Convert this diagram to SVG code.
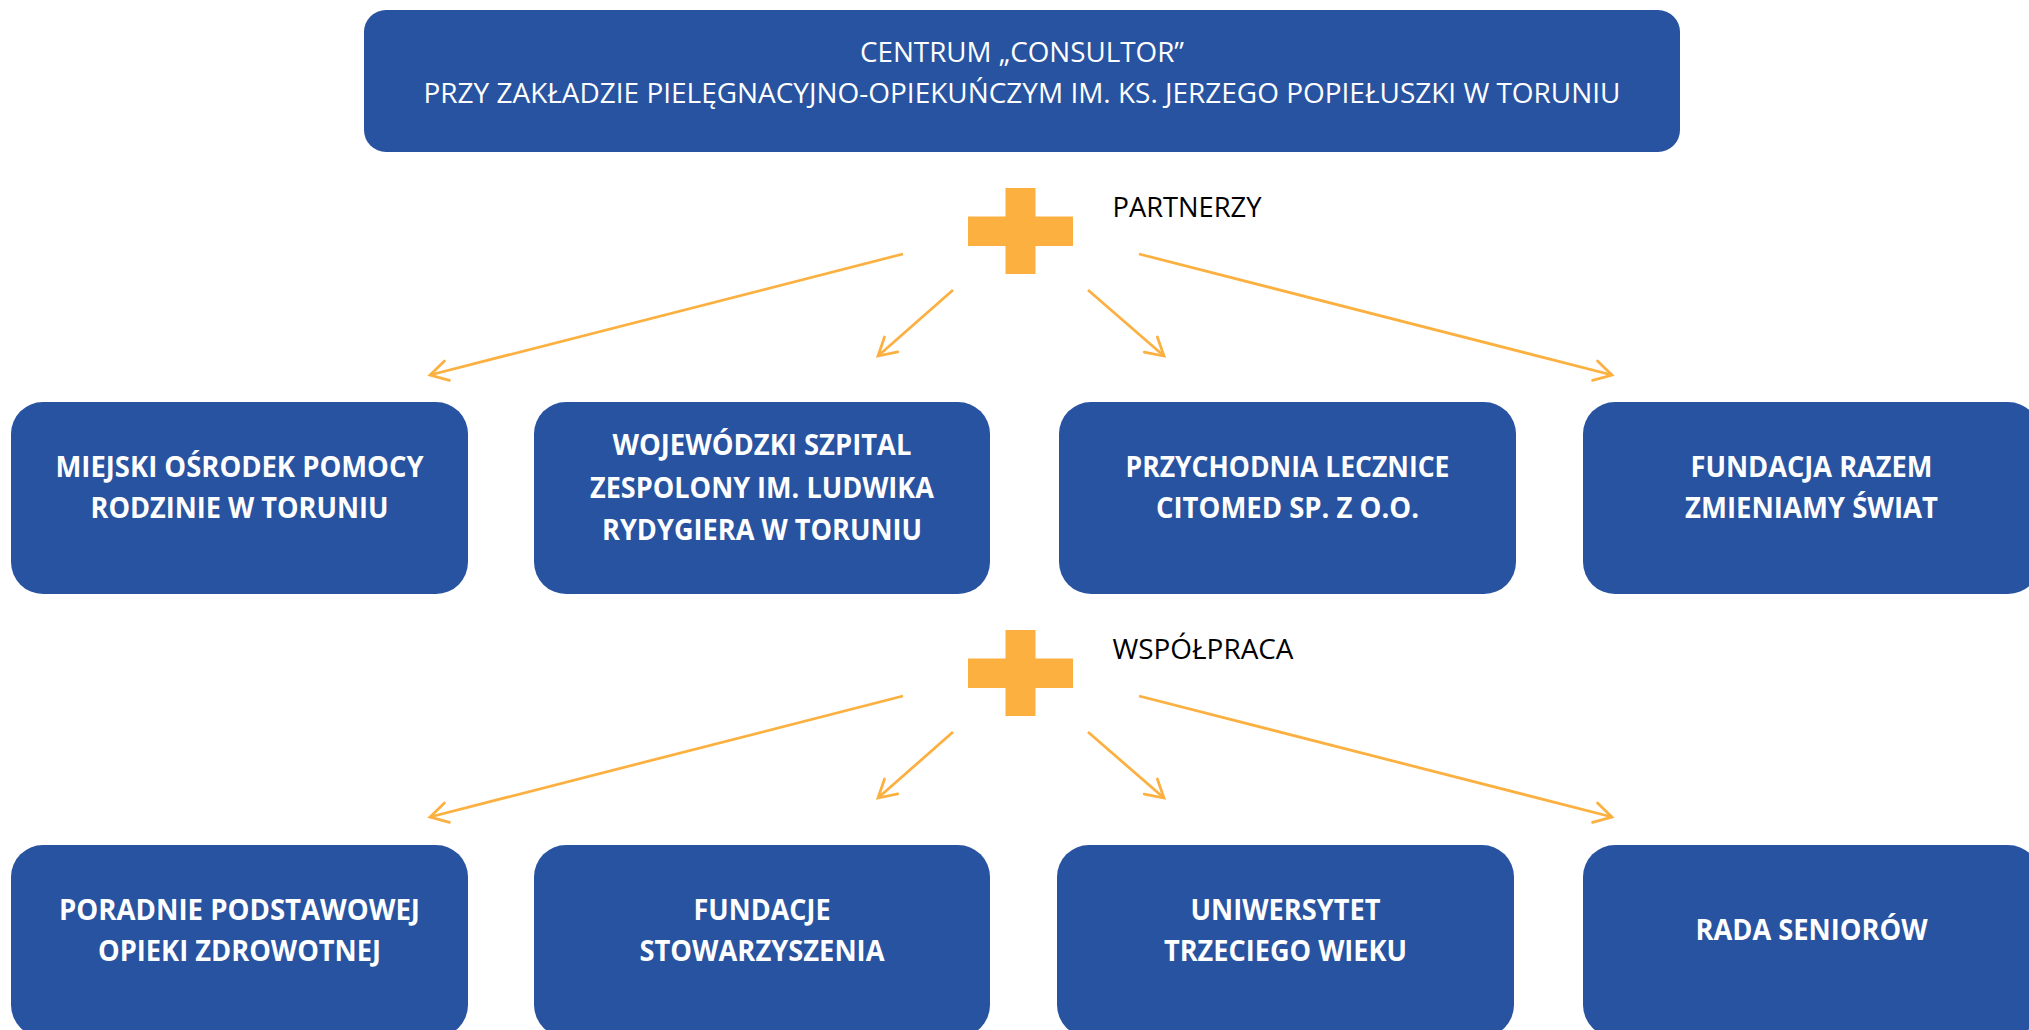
<svg xmlns="http://www.w3.org/2000/svg" width="2029" height="1030" viewBox="0 0 2029 1030">
<style>
.box{fill:#2853A1;}
.t{font-family:"Open Sans","Noto Sans","Liberation Sans",sans-serif;font-size:28px;fill:#FFFFFF;text-anchor:middle;}
.b{font-weight:bold;}
.lbl{font-family:"Open Sans","Noto Sans","Liberation Sans",sans-serif;font-size:27px;fill:#000000;}
.plus{fill:#FBB040;}
.arr{stroke:#FBB040;stroke-width:2.75;fill:none;marker-end:url(#ah);}
</style>
<defs>
<marker id="ah" markerUnits="userSpaceOnUse" orient="auto" viewBox="-22 -13 25 26" markerWidth="25" markerHeight="26" refX="0" refY="0" overflow="visible">
<path d="M-17.5,-10 L0,0 L-17.5,10" fill="none" stroke="#FBB040" stroke-width="2.75" stroke-linecap="round" stroke-linejoin="miter"/>
</marker>
</defs>
<rect width="2029" height="1030" fill="#FFFFFF"/>

<g id="centrum">
<rect class="box" x="364" y="10" width="1316" height="142" rx="22"/>
<text class="t" x="1022" y="62" textLength="324" lengthAdjust="spacingAndGlyphs">CENTRUM „CONSULTOR”</text>
<text class="t" x="1022" y="103" textLength="1197" lengthAdjust="spacingAndGlyphs">PRZY ZAKŁADZIE PIELĘGNACYJNO-OPIEKUŃCZYM IM. KS. JERZEGO POPIEŁUSZKI W TORUNIU</text>
</g>

<g id="partnerzy">
<rect class="plus" x="1005.5" y="188" width="30" height="86"/>
<rect class="plus" x="968" y="216.5" width="105" height="29.5"/>
<text class="lbl" x="1112.5" y="216.5" textLength="149" lengthAdjust="spacingAndGlyphs">PARTNERZY</text>
</g>

<g id="wspolpraca">
<rect class="plus" x="1005.5" y="630" width="30" height="86"/>
<rect class="plus" x="968" y="658.5" width="105" height="29.5"/>
<text class="lbl" x="1112.5" y="659" textLength="181" lengthAdjust="spacingAndGlyphs">WSPÓŁPRACA</text>
</g>

<g id="connectors">
<line class="arr" x1="903" y1="254" x2="430" y2="375"/>
<line class="arr" x1="953" y1="290" x2="878" y2="356"/>
<line class="arr" x1="1088" y1="290" x2="1164" y2="356"/>
<line class="arr" x1="1139" y1="254" x2="1612" y2="375"/>
<line class="arr" x1="903" y1="696" x2="430" y2="817"/>
<line class="arr" x1="953" y1="732" x2="878" y2="798"/>
<line class="arr" x1="1088" y1="732" x2="1164" y2="798"/>
<line class="arr" x1="1139" y1="696" x2="1612" y2="817"/>
</g>

<g id="mopr">
<rect class="box" x="11" y="402" width="457" height="192" rx="32"/>
<text class="t b" x="239.5" y="477" textLength="368" lengthAdjust="spacingAndGlyphs">MIEJSKI OŚRODEK POMOCY</text>
<text class="t b" x="239.5" y="518" textLength="298" lengthAdjust="spacingAndGlyphs">RODZINIE W TORUNIU</text>
</g>

<g id="szpital">
<rect class="box" x="534" y="402" width="456" height="192" rx="32"/>
<text class="t b" x="762" y="455" textLength="299" lengthAdjust="spacingAndGlyphs">WOJEWÓDZKI SZPITAL</text>
<text class="t b" x="762" y="498" textLength="344" lengthAdjust="spacingAndGlyphs">ZESPOLONY IM. LUDWIKA</text>
<text class="t b" x="762" y="540" textLength="320" lengthAdjust="spacingAndGlyphs">RYDYGIERA W TORUNIU</text>
</g>

<g id="citomed">
<rect class="box" x="1059" y="402" width="457" height="192" rx="32"/>
<text class="t b" x="1287.5" y="477" textLength="324" lengthAdjust="spacingAndGlyphs">PRZYCHODNIA LECZNICE</text>
<text class="t b" x="1287.5" y="518" textLength="263" lengthAdjust="spacingAndGlyphs">CITOMED SP. Z O.O.</text>
</g>

<g id="fundacja-razem">
<rect class="box" x="1583" y="402" width="457" height="192" rx="32"/>
<text class="t b" x="1811.5" y="477" textLength="242" lengthAdjust="spacingAndGlyphs">FUNDACJA RAZEM</text>
<text class="t b" x="1811.5" y="518" textLength="253" lengthAdjust="spacingAndGlyphs">ZMIENIAMY ŚWIAT</text>
</g>

<g id="poradnie">
<rect class="box" x="11" y="845" width="457" height="192" rx="32"/>
<text class="t b" x="239.5" y="920" textLength="361" lengthAdjust="spacingAndGlyphs">PORADNIE PODSTAWOWEJ</text>
<text class="t b" x="239.5" y="961" textLength="283" lengthAdjust="spacingAndGlyphs">OPIEKI ZDROWOTNEJ</text>
</g>

<g id="fundacje">
<rect class="box" x="534" y="845" width="456" height="192" rx="32"/>
<text class="t b" x="762" y="920" textLength="137" lengthAdjust="spacingAndGlyphs">FUNDACJE</text>
<text class="t b" x="762" y="961" textLength="245" lengthAdjust="spacingAndGlyphs">STOWARZYSZENIA</text>
</g>

<g id="utw">
<rect class="box" x="1057" y="845" width="457" height="192" rx="32"/>
<text class="t b" x="1285.5" y="920" textLength="190" lengthAdjust="spacingAndGlyphs">UNIWERSYTET</text>
<text class="t b" x="1285.5" y="961" textLength="243" lengthAdjust="spacingAndGlyphs">TRZECIEGO WIEKU</text>
</g>

<g id="rada">
<rect class="box" x="1583" y="845" width="457" height="192" rx="32"/>
<text class="t b" x="1811.5" y="940" textLength="232" lengthAdjust="spacingAndGlyphs">RADA SENIORÓW</text>
</g>
</svg>
